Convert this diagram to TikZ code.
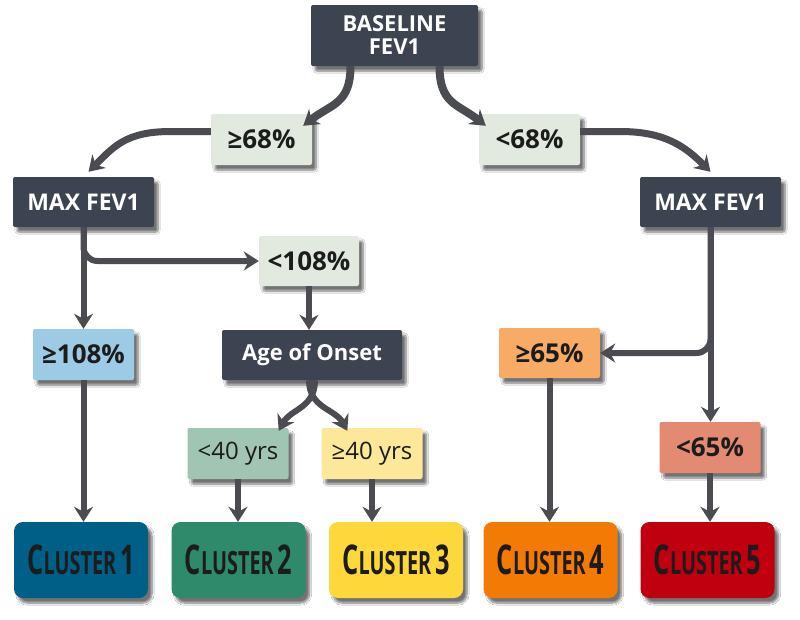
\documentclass[tikz,border=0pt]{standalone}
\usepackage{fontspec}
\usepackage{graphicx}
\setmainfont{Open Sans}
\usetikzlibrary{arrows.meta,shadows.blur,calc}
\definecolor{cdark}{HTML}{3C4451}
\definecolor{clight}{HTML}{E2EAE0}
\definecolor{cblue}{HTML}{9DCBE5}
\definecolor{corange}{HTML}{F8AB65}
\definecolor{csalmon}{HTML}{E38B72}
\definecolor{cmint}{HTML}{A0C5B3}
\definecolor{cpale}{HTML}{FDE89A}
\definecolor{cA}{HTML}{005F87}
\definecolor{cB}{HTML}{2F8A6B}
\definecolor{cC}{HTML}{FED73A}
\definecolor{cD}{HTML}{F27A05}
\definecolor{cE}{HTML}{C0000F}
\definecolor{carrow}{HTML}{4A4C51}
\definecolor{ctext}{HTML}{1C1C1C}
\newcommand\clname[1]{\scalebox{0.62}[1]{\bfseries{\fontsize{41}{42}\selectfont C}{\fontsize{32}{32}\selectfont LUSTER}\hspace{6pt}{\fontsize{41}{42}\selectfont #1}}}
\begin{document}
\begin{tikzpicture}[x=1pt,y=-1pt,
  basebox/.style={rectangle, rounded corners=2pt, inner sep=0pt, align=center,
    blur shadow={shadow xshift=4pt, shadow yshift=-5pt, shadow blur steps=8, shadow opacity=55}},
  darkbox/.style={basebox, fill=cdark, text=white, font=\fontsize{23}{24}\selectfont\bfseries,
    minimum width=141pt, minimum height=50pt},
  cond/.style={basebox, text=ctext, font=\fontsize{26}{28}\selectfont\bfseries,
    minimum width=101pt, minimum height=51pt},
  yrs/.style={cond, font=\fontsize{24}{26}\selectfont},
  cluster/.style={basebox, rounded corners=9pt, minimum width=134pt, minimum height=76pt, text=ctext},
  arr/.style={draw=carrow, line width=6pt, -{Stealth[length=15pt,width=19pt,inset=5pt]}},
]
\useasboundingbox (0,0) rectangle (800,619);
\fill[white] (0,0) rectangle (800,619);

\node[darkbox, minimum width=167pt, minimum height=61pt, font=\fontsize{22}{23}\selectfont\bfseries] (base) at (394.5,35.5) {BASELINE\\FEV1};
\node[cond, fill=clight] (g68) at (261.5,139.5) {≥68\%};
\node[cond, fill=clight] (l68) at (529.5,139.5) {<68\%};
\node[darkbox] (mL) at (83.5,202) {MAX FEV1};
\node[darkbox] (mR) at (710.5,202) {MAX FEV1};
\node[cond, fill=clight, minimum width=100pt, minimum height=50pt] (l108) at (309,261) {<108\%};
\node[cond, fill=cblue] (g108) at (83.5,354.5) {≥108\%};
\node[darkbox, minimum width=180pt, font=\fontsize{22}{23}\selectfont\bfseries] (age) at (312,355) {Age of Onset};
\node[cond, fill=corange, minimum height=50pt] (g65) at (549.5,353) {≥65\%};
\node[yrs, fill=cmint] (y1) at (238,453.5) {<40 yrs};
\node[yrs, fill=cpale] (y2) at (372,453.5) {≥40 yrs};
\node[cond, fill=csalmon] (l65) at (710,447.5) {<65\%};
\node[cluster, fill=cA] (c1) at (81,560) {\clname{1}};
\node[cluster, fill=cB] (c2) at (238.5,560) {\clname{2}};
\node[cluster, fill=cC] (c3) at (396,560) {\clname{3}};
\node[cluster, fill=cD] (c4) at (550.5,560) {\clname{4}};
\node[cluster, fill=cE] (c5) at (707.5,560) {\clname{5}};

\draw[arr, line width=8pt] ($(base.south)+(-44,0)$) .. controls +(0,38) and +(28,-22) .. ($(g68.north east)+(-9,12)$);
\draw[arr, line width=8pt] ($(base.south)+(45,0)$) .. controls +(0,38) and +(-28,-22) .. ($(l68.north west)+(7,12)$);
\draw[arr, line width=7pt] ($(g68.west)+(0,-8)$) -- ++(-40,0) .. controls +(-45,0) and +(25,-25) .. ($(mL.north)+(5,-5)$);
\draw[arr, line width=7pt] ($(l68.east)+(0,-8)$) -- ++(40,0) .. controls +(45,0) and +(-25,-25) .. ($(mR.north)+(0,-5)$);

\draw[arr] (mL.south) -- (g108.north);
\draw[arr, rounded corners=14pt] (mL.south) |- (l108.west);
\draw[arr] (l108.south) -- (l108.south |- age.north);
\draw[arr] ($(age.south)+(3,0)$) .. controls +(0,28) and +(12,-22) .. ($(y1.north east)+(-10,3)$);
\draw[arr] ($(age.south)+(-3,0)$) .. controls +(0,28) and +(-12,-22) .. ($(y2.north west)+(26,3)$);
\draw[arr] (g108.south) -- (g108.south |- c1.north);
\draw[arr] (y1.south) -- (y1.south |- c2.north);
\draw[arr] (y2.south) -- (y2.south |- c3.north);
\draw[arr] (mR.south) -- (mR.south |- l65.north);
\draw[arr, rounded corners=14pt] (mR.south) |- (g65.east);
\draw[arr] (g65.south) -- (g65.south |- c4.north);
\draw[arr] (l65.south) -- (l65.south |- c5.north);
\end{tikzpicture}
\end{document}
